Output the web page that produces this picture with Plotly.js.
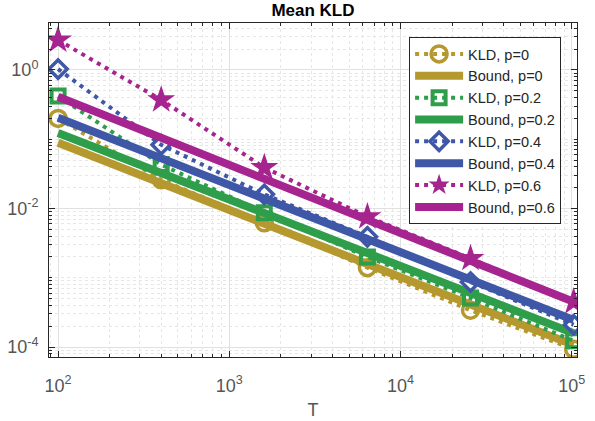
<!DOCTYPE html>
<html>
<head>
<meta charset="utf-8">
<script src="https://cdn.plot.ly/plotly-3.0.1.min.js"></script>
<style>html,body{margin:0;padding:0;background:#fff;}#chart{width:595px;height:421px;}</style>
</head>
<body>
<div id="chart"></div>
<script>
// Data
var T = [100, 400, 1600, 6400, 25600, 102400];
var kld_p0   = [0.20, 0.026, 0.0062, 0.0014, 0.00034, 0.000093];
var bound_p0 = [0.089, 0.0234, 0.0060, 0.0016, 0.00041, 0.000107];
var kld_p02   = [0.42, 0.043, 0.0087, 0.0020, 0.00051, 0.000123];
var bound_p02 = [0.123, 0.032, 0.0085, 0.0022, 0.00060, 0.000158];
var kld_p04   = [1.03, 0.083, 0.016, 0.0039, 0.00087, 0.00021];
var bound_p04 = [0.204, 0.053, 0.0138, 0.0036, 0.00093, 0.000245];
var kld_p06   = [2.7, 0.37, 0.039, 0.0076, 0.0019, 0.00045];
var bound_p06 = [0.41, 0.105, 0.027, 0.0068, 0.00174, 0.00045];

var names = ['KLD, p=0','Bound, p=0','KLD, p=0.2','Bound, p=0.2','KLD, p=0.4','Bound, p=0.4','KLD, p=0.6','Bound, p=0.6'];
var colors = ['#B5982E', '#2E9E4A', '#3E57A7', '#A6248F'];

function kldTrace(y, name, color, symbol, size, lw) {
  return {x: T, y: y, name: name, type: 'scatter', mode: 'lines+markers',
    line: {color: color, width: 4, dash: '4px,5px'},
    marker: {symbol: symbol, size: size, color: color, line: {color: color, width: lw}},
    hoverinfo: 'skip'};
}
function boundTrace(y, name, color) {
  return {x: T, y: y, name: name, type: 'scatter', mode: 'lines',
    line: {color: color, width: 8}, hoverinfo: 'skip'};
}

var data = [
  kldTrace(kld_p0, names[0], colors[0], 'circle-open', 16, 3.5),
  boundTrace(bound_p0, names[1], colors[0]),
  kldTrace(kld_p02, names[2], colors[1], 'square-open', 13, 4),
  boundTrace(bound_p02, names[3], colors[1]),
  kldTrace(kld_p04, names[4], colors[2], 'diamond-open', 14, 3.5),
  boundTrace(bound_p04, names[5], colors[2]),
  kldTrace(kld_p06, names[6], colors[3], 'star', 21, 0),
  boundTrace(bound_p06, names[7], colors[3])
];

function minorVals(e0, e1, majors) {
  var v = [];
  for (var e = e0; e <= e1; e++) {
    for (var k = 1; k <= 9; k++) {
      var val = k * Math.pow(10, e);
      if (majors.indexOf(e) < 0 || k > 1) v.push(val);
    }
  }
  return v;
}

var xMajors = [100, 1000, 10000, 100000];
var xText = ['10<sup>2</sup>', '10<sup>3</sup>', '10<sup>4</sup>', '10<sup>5</sup>'];
var yMajors = [0.0001, 0.01, 1];
var yText = ['10<sup>-4</sup>', '10<sup>-2</sup>', '10<sup>0</sup>'];

var axisCommon = {
  type: 'log', showline: true, mirror: 'ticks', linecolor: '#262626', linewidth: 1,
  ticks: 'inside', ticklen: 6, tickcolor: '#262626', tickwidth: 1,
  showgrid: true, gridcolor: '#e0e0e0', gridwidth: 1, zeroline: false,
  tickfont: {family: 'Liberation Sans, Arial, sans-serif', size: 18, color: '#555555'}
};

var minorCommon = {ticks: 'inside', ticklen: 3, tickcolor: '#262626',
  showgrid: true, gridcolor: '#e6e6e6', griddash: 'dot', gridwidth: 1};

var layout = {
  width: 595, height: 421,
  margin: {l: 49, r: 18, t: 23, b: 64},
  paper_bgcolor: '#ffffff', plot_bgcolor: '#ffffff',
  showlegend: true,
  title: {text: '<b>Mean KLD</b>', x: 0.526, xanchor: 'center', y: 0.975, yanchor: 'middle',
    font: {family: 'Liberation Sans, Arial, sans-serif', size: 17, color: '#000000'}},
  xaxis: Object.assign({}, axisCommon, {
    range: [1.947, 5.03], tickvals: xMajors, ticktext: xText, ticklabelstandoff: 12,
    minor: Object.assign({tickvals: minorVals(1, 5, [2, 3, 4, 5])}, minorCommon),
    title: {text: 'T', font: {family: 'Liberation Sans, Arial, sans-serif', size: 18, color: '#555555'}, standoff: 8}
  }),
  yaxis: Object.assign({}, axisCommon, {
    range: [-4.144, 0.678], tickvals: yMajors, ticktext: yText, ticklabelstandoff: 6,
    minor: Object.assign({tickvals: minorVals(-5, 0, [-4, -2, 0])}, minorCommon)
  }),
  legend: {x: 0.682, y: 0.958, xanchor: 'left', yanchor: 'top',
    bgcolor: '#ffffff', bordercolor: '#262626', borderwidth: 1,
    font: {family: 'Liberation Sans, Arial, sans-serif', size: 14.5, color: '#262626'},
    itemwidth: 48, tracegroupgap: 0}
};

Plotly.newPlot('chart', data, layout, {displayModeBar: false, staticPlot: true});
</script>
</body>
</html>
